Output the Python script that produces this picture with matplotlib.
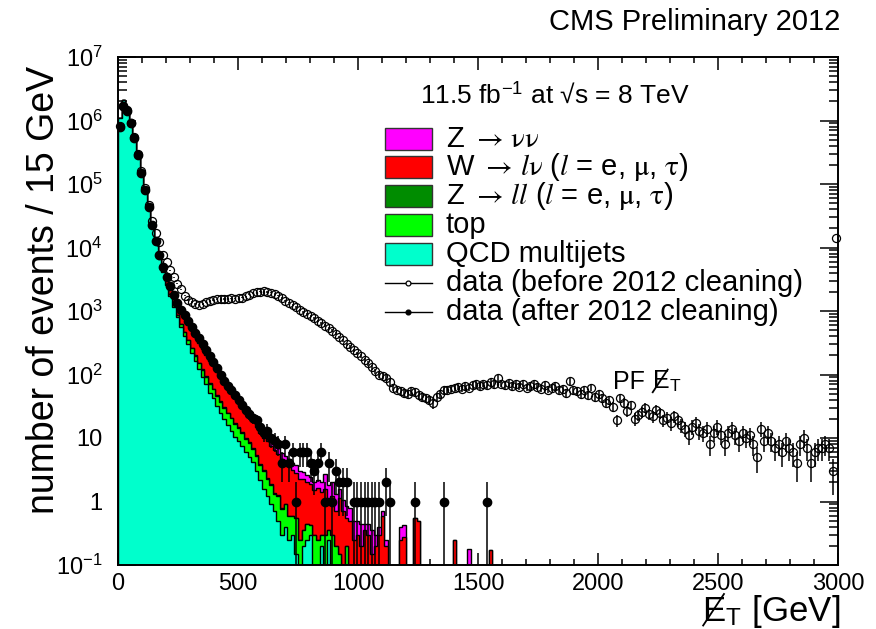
import numpy as np
import matplotlib
matplotlib.use("Agg")
import matplotlib.pyplot as plt
from matplotlib.patches import Rectangle
from matplotlib.lines import Line2D
from matplotlib.ticker import MultipleLocator, FixedLocator, FixedFormatter, LogLocator, NullFormatter

plt.rcParams['font.family'] = ['Liberation Sans', 'DejaVu Sans']
plt.rcParams['mathtext.fontset'] = 'stix'

W_PX, H_PX = 876, 629
BIN_WIDTH = 15.0
N_BINS = 200

# ---- per-bin contents (15 GeV bins starting at 0) ----
qcd = [1.1e6, 2.1e6, 1.6e6, 9.5e5, 5.5e5, 3.0e5, 1.55e5, 8.0e4, 4.2e4, 2.2e4,
       1.15e4, 6.6e3, 4.1e3, 2.6e3, 1.75e3, 1.15e3, 800, 560, 410, 300,
       220, 165, 120, 92, 70, 52, 42, 32, 25, 20,
       16, 13, 10.5, 9, 7.5, 6, 5, 4.2, 3.0, 2.2,
       1.6, 1.2, 0.9, 0.7, 0.5, 0.3, 0.4, 0.25, 0.3, 0.15,
       0, 0.2, 0.25, 0.3, 0, 0, 0.2, 0, 0.25, 0]

top = [20, 60, 110, 150, 170, 175, 170, 160, 150, 140,
       130, 118, 106, 95, 85, 75, 66, 58, 51, 45,
       40, 34, 30, 26, 22, 19, 16.5, 14, 12, 10,
       8.5, 7.5, 6.2, 5.5, 4.6, 3.8, 3.3, 2.6, 2.2, 1.6,
       1.4, 1.1, 0.9, 0.6, 0.7, 0.45, 0.5, 0.35, 0.3, 0.4,
       0.25, 0.15, 0.2, 0.12, 0.3, 0.25, 0.1, 0.3, 0.1, 0.3,
       0.2, 0.15, 0.1, 0.2]

z_ll = [5, 20, 35, 40, 40, 38, 35, 30, 26, 22,
        19, 16, 14, 12, 10, 8.5, 7, 6, 5, 4.2,
        3.5, 3, 2.5, 2.1, 1.8, 1.5, 1.2, 1.0, 0.85, 0.7,
        0.6, 0.5, 0.42, 0.35, 0.3, 0.25, 0.2, 0.18, 0.15, 0.12,
        0.1, 0.08, 0.08, 0.06, 0.05, 0.05]

w_lnu = [300, 1500, 3000, 3500, 3200, 2700, 2200, 1800, 1500, 1250,
         1050, 880, 760, 680, 600, 500, 420, 350, 300, 260,
         230, 190, 160, 130, 110, 92, 76, 64, 52, 42,
         35, 30, 25, 21, 17, 14.5, 12.5, 11, 9.5, 8,
         7, 6.5, 5.5, 5, 4.3, 3.8, 3.2, 3.0, 2.5, 2.3,
         2.0, 1.9, 1.6, 1.5, 1.2, 1.4, 1.1, 1.3, 0.8, 0.9,
         0.5, 1.0, 0.6, 0.35, 0.5, 0.25, 0.3, 0.2, 0.35, 0.3,
         0.15, 0.2, 0.3, 0.6, 0.2, 0, 0, 0, 0.25, 0.28,
         0, 0, 0.55, 0.5, 0, 0, 0, 0, 0, 0,
         0, 0, 0, 0.25, 0, 0, 0, 0, 0, 0,
         0, 0, 0, 0.17, 0]

z_nunu = [20, 100, 250, 400, 480, 500, 480, 440, 390, 340,
          300, 260, 220, 185, 150, 120, 105, 90, 80, 75,
          70, 58, 48, 40, 34, 30, 25, 21, 17, 14.5,
          12, 10.5, 9, 7.8, 6.6, 5.6, 4.6, 4.0, 3.4, 3.0,
          2.6, 2.3, 2.0, 1.8, 1.5, 1.3, 1.15, 1.0, 0.9, 0.85,
          0.8, 0.7, 0.6, 0.55, 0.5, 0.5, 0.6, 1.1, 0.7, 0.8,
          0.6, 0.4, 0.35, 0.3, 0.3, 0.25, 0.2, 0.25, 0.1, 0.15,
          0.2, 0.1, 0.1, 0.1, 0.05, 0.05, 0, 0, 0.15, 0.15,
          0, 0, 0, 0, 0, 0, 0, 0, 0, 0,
          0, 0, 0, 0, 0, 0, 0, 0.18]

data_before = [8.1e5, 1.7e6, 1.45e6, 9.2e5, 5.5e5, 3.0e5, 1.6e5, 8.6e4, 4.7e4, 2.6e4,
               1.7e4, 1.2e4, 7600, 5900, 4400, 3400, 2700, 2200, 1750, 1500,
               1380, 1300, 1250, 1300, 1380, 1450, 1500, 1520, 1550, 1540,
               1560, 1580, 1570, 1600, 1620, 1700, 1800, 1900, 1980, 2020,
               2050, 2000, 1950, 1850, 1750, 1600, 1450, 1350, 1250, 1150,
               1050, 960, 900, 830, 780, 700, 640, 590, 540, 490,
               440, 390, 345, 300, 270, 240, 215, 195, 170, 150,
               130, 112, 98, 95, 88, 75, 62, 58, 55, 52,
               50, 55, 53, 48, 44, 42, 40, 35, 45, 50,
               57, 58, 60, 62, 64, 60, 66, 62, 68, 70,
               66, 72, 68, 75, 70, 88, 72, 68, 74, 66,
               70, 64, 72, 62, 66, 70, 64, 60, 68, 58,
               62, 66, 56, 60, 52, 78, 56, 54, 50, 58,
               48, 62, 44, 50, 42, 36, 40, 31, 19, 43,
               36, 27, 33, 20, 23, 26, 30, 24, 22, 28,
               25, 19, 21, 17, 22, 19, 16, 14, 11, 15,
               17, 13, 12, 14, 8, 12, 15, 11, 8, 12,
               14, 11, 9, 12, 10, 11, 8, 5, 14, 9,
               12, 9, 7, 8, 6, 9, 7, 6, 4, 8,
               10, 7, 4, 6, 7, 7, 8, 7, 3, 14000]

data_after = [8.0e5, 1.7e6, 1.4e6, 9.0e5, 5.3e5, 2.9e5, 1.5e5, 8.0e4, 4.3e4, 2.3e4,
              1.25e4, 7500, 5000, 3400, 2500, 1800, 1350, 1050, 850, 690,
              560, 450, 370, 300, 240, 195, 158, 128, 100, 80,
              66, 56, 47, 40, 33, 28, 24, 21, 19, 15,
              12, 13, 10, 9, 8, 4, 8, 4, 6, 1,
              6, 6, 6, 4, 3, 4, 6, 1, 4, 1,
              3, 2, 2, 2, 0, 1, 1, 1, 1, 1,
              1, 1, 1, 0, 2, 1, 0, 0, 0, 0,
              0, 0, 1, 0, 0, 0, 0, 0, 0, 0,
              1, 0, 0, 0, 0, 0, 0, 0, 0, 0,
              0, 0, 1]

layer_names = [r'QCD multijets', 'top',
               r'Z $\rightarrow\,ll$ ($l$ = e, $\mathrm{\mu}$, $\mathrm{\tau}$)',
               r'W $\rightarrow\,l\mathrm{\nu}$ ($l$ = e, $\mathrm{\mu}$, $\mathrm{\tau}$)',
               r'Z $\rightarrow\,\mathrm{\nu\nu}$']
layer_colors = ['#00FFCC', '#00FF00', '#008C00', '#FF0000', '#FF00FF']


def padded(values):
    arr = np.zeros(N_BINS)
    arr[:len(values)] = values
    return arr


edges = np.arange(N_BINS + 1) * BIN_WIDTH
centers = 0.5 * (edges[:-1] + edges[1:])

layers = [padded(v) for v in (qcd, top, z_ll, w_lnu, z_nunu)]
cumulative = np.cumsum(np.vstack(layers), axis=0)

fig = plt.figure(figsize=(W_PX / 100, H_PX / 100), dpi=100)


def fx(px):
    return px / W_PX


def fy(py):
    return 1 - py / H_PX


ax = fig.add_axes([fx(118), fy(565), (838 - 118) / W_PX, (565 - 57) / H_PX])
ax.set_yscale('log')
ax.set_xlim(0, 3000)
ax.set_ylim(0.1, 1e7)

FLOOR = 1e-4
# stacked histograms: draw the largest cumulative first
for i in range(len(layers) - 1, -1, -1):
    vals = np.where(cumulative[i] > 0, cumulative[i], FLOOR)
    ax.stairs(vals, edges, baseline=FLOOR, fill=True, facecolor=layer_colors[i],
              edgecolor='black', linewidth=1.0, zorder=2 + (len(layers) - i))


def plot_data(values, filled, z):
    v = padded(values)
    m = v > 0
    x = centers[m]
    y = v[m]
    err = np.sqrt(y)
    lo = np.minimum(err, y * (1 - 1e-6))
    if filled:
        ax.errorbar(x, y, yerr=[lo, err], fmt='o', ms=6, color='black',
                    mec='black', mfc='black', elinewidth=1.1, capsize=0, zorder=z)
    else:
        ax.errorbar(x, y, yerr=[lo, err], fmt='o', ms=5.8, color='black',
                    mec='black', mfc='none', mew=0.9, elinewidth=1.1, capsize=0,
                    zorder=z, clip_on=False)


plot_data(data_before, False, 10)
plot_data(data_after, True, 11)

# axes styling
for s in ax.spines.values():
    s.set_linewidth(1.4)
    s.set_zorder(20)
ax.xaxis.set_major_locator(MultipleLocator(500))
ax.xaxis.set_minor_locator(MultipleLocator(100))
ax.yaxis.set_major_locator(FixedLocator([10.0 ** k for k in range(-1, 8)]))
ax.yaxis.set_minor_locator(LogLocator(base=10, subs=np.arange(2, 10), numticks=20))
ax.yaxis.set_minor_formatter(NullFormatter())
ylabels = [r'$\mathregular{10^{-1}}$', '1', '10'] + \
          [r'$\mathregular{10^{%d}}$' % k for k in range(2, 8)]
ax.yaxis.set_major_formatter(FixedFormatter(ylabels))
ax.tick_params(axis='both', which='both', direction='in', top=True, right=True,
               width=1.1, labelsize=17)
ax.tick_params(axis='y', which='major', length=13, pad=11)
ax.tick_params(axis='y', which='minor', length=6.5)
ax.tick_params(axis='x', which='major', length=9, pad=6)
ax.tick_params(axis='x', which='minor', length=4.5)

# titles and annotations
fig.text(fx(840), fy(22), 'CMS Preliminary 2012', fontsize=21, ha='right', va='center')
fig.text(fx(44), fy(290), 'number of events / 15 GeV', fontsize=27, rotation=90,
         ha='center', va='center')
fig.text(fx(420), fy(95), r'11.5 fb$^{\mathregular{-1}}$ at √s = 8 TeV', fontsize=19,
         ha='left', va='center')

renderer = fig.canvas.get_renderer()
PT = 100 / 72


def met_text(x_px, y_px, prefix, suffix, size):
    """Write prefix + slashed E with subscript T + suffix, baseline at y_px."""
    x = x_px
    if prefix:
        t = fig.text(fx(x), fy(y_px), prefix, fontsize=size, ha='left', va='baseline')
        bb = t.get_window_extent(renderer)
        x = bb.x1 + 0.28 * size * PT
    label = r'E$_{\mathregular{T}}$' + (' ' + suffix if suffix else '')
    probe = fig.text(x / W_PX, fy(y_px), 'E', fontsize=size, ha='left', va='baseline')
    eb = probe.get_window_extent(renderer)
    probe.remove()
    fig.text(x / W_PX, fy(y_px), label, fontsize=size, ha='left', va='baseline')
    base = H_PX - y_px
    cap = 0.72 * size * PT
    w = eb.x1 - eb.x0
    fig.lines.append(Line2D([(eb.x0 + 0.05 * w) / W_PX, (eb.x1 - 0.05 * w) / W_PX],
                            [(base - 0.18 * cap) / H_PX, (base + 1.08 * cap) / H_PX],
                            transform=fig.transFigure, color='black', linewidth=1.3))


met_text(702, 621, '', '[GeV]', 25)
met_text(613, 389, 'PF', '', 18)

# legend
rows = [139, 167, 196, 225, 254, 283, 312]
box_x0, box_x1 = 385, 432
text_x = 446
order = [4, 3, 2, 1, 0]
for r, idx in zip(rows[:5], order):
    fig.patches.append(Rectangle((fx(box_x0), fy(r + 11)), (box_x1 - box_x0) / W_PX, 22 / H_PX,
                                 transform=fig.transFigure, facecolor=layer_colors[idx],
                                 edgecolor='#333333', linewidth=1.0))
    fig.text(fx(text_x), fy(r), layer_names[idx], fontsize=21, ha='left', va='center')

for r, filled, label in [(rows[5], False, 'data (before 2012 cleaning)'),
                         (rows[6], True, 'data (after 2012 cleaning)')]:
    fig.lines.append(Line2D([fx(box_x0), fx(box_x1)], [fy(r), fy(r)], transform=fig.transFigure,
                            color='black', linewidth=1.0))
    fig.lines.append(Line2D([fx(408)], [fy(r)], transform=fig.transFigure, marker='o',
                            ms=3.5, mec='black', mfc='black' if filled else 'white', mew=0.9))
    fig.text(fx(text_x), fy(r), label, fontsize=21, ha='left', va='center')

fig.savefig('out.png', dpi=100)
